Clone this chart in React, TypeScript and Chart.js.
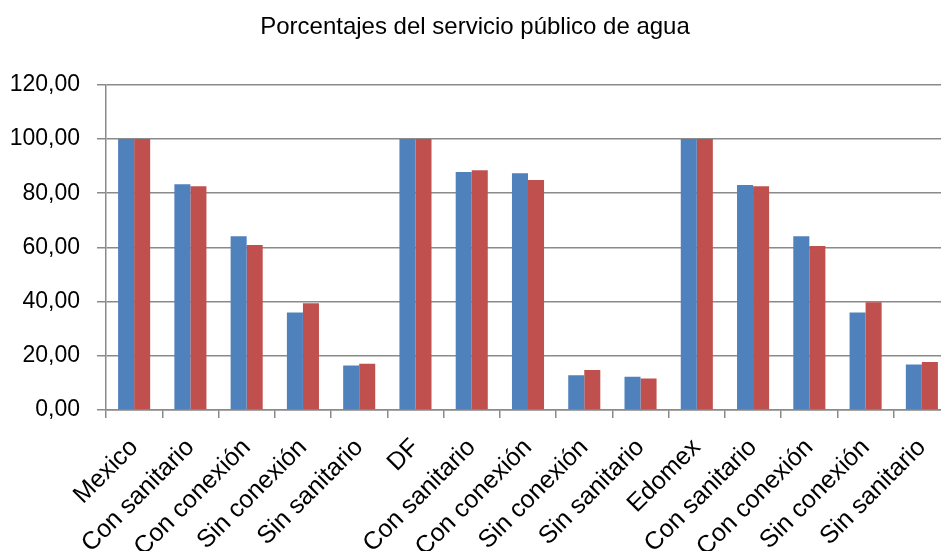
import React, { useEffect, useRef } from "react";
import { Chart, registerables } from "chart.js";

Chart.register(...registerables);

const title = "Porcentajes del servicio público de agua";

const categories = [
  "Mexico",
  "Con sanitario",
  "Con conexión",
  "Sin conexión",
  "Sin sanitario",
  "DF",
  "Con sanitario",
  "Con conexión",
  "Sin conexión",
  "Sin sanitario",
  "Edomex",
  "Con sanitario",
  "Con conexión",
  "Sin conexión",
  "Sin sanitario",
];

const serieAzul = [100, 83.3, 64.1, 36.0, 16.4, 100, 87.8, 87.4, 12.8, 12.3, 100, 83.0, 64.1, 36.0, 16.8];
const serieRoja = [100, 82.6, 60.9, 39.4, 17.1, 100, 88.5, 84.9, 14.8, 11.6, 100, 82.6, 60.5, 39.8, 17.7];

const yTicks = [0, 20, 40, 60, 80, 100, 120];

const FONT = "'Liberation Sans', Arial, sans-serif";
const GRID = "#8a8a8a";

export default function App() {
  const ref = useRef<HTMLCanvasElement | null>(null);

  useEffect(() => {
    if (!ref.current) return;
    const chart = new Chart(ref.current, {
      type: "bar",
      data: {
        labels: categories,
        datasets: [
          {
            label: "Serie 1",
            data: serieAzul,
            backgroundColor: "#4F81BD",
            borderWidth: 0,
            barPercentage: 1,
            categoryPercentage: 0.57,
          },
          {
            label: "Serie 2",
            data: serieRoja,
            backgroundColor: "#C0504D",
            borderWidth: 0,
            barPercentage: 1,
            categoryPercentage: 0.57,
          },
        ],
      },
      options: {
        responsive: false,
        animation: false,
        devicePixelRatio: 1,
        layout: { padding: { left: 0, right: 0, top: 0, bottom: 0 } },
        plugins: {
          legend: { display: false },
          tooltip: { enabled: false },
          title: {
            display: true,
            text: title,
            color: "#000",
            font: { family: FONT, size: 24, weight: "normal" },
            padding: { top: 13, bottom: 43 },
          },
        },
        scales: {
          x: {
            grid: {
              display: true,
              offset: true,
              drawOnChartArea: false,
              drawTicks: true,
              tickLength: 8,
              color: GRID,
              lineWidth: 1.5,
            },
            border: { display: true, color: GRID, width: 1.5 },
            ticks: {
              autoSkip: false,
              minRotation: 45,
              maxRotation: 45,
              padding: 15,
              color: "#000",
              font: { family: FONT, size: 25 },
            },
            afterFit: (scale: any) => {
              scale.height = 141;
              scale.paddingRight = 0;
              scale.paddingLeft = 0;
            },
          },
          y: {
            min: 0,
            max: 120,
            afterBuildTicks: (scale: any) => {
              scale.ticks = yTicks.map((v) => ({ value: v }));
            },
            grid: {
              color: GRID,
              lineWidth: 1.5,
              drawTicks: true,
              tickLength: 9,
            },
            border: { display: true, color: GRID, width: 1.5 },
            ticks: {
              padding: 17,
              color: "#000",
              font: { family: FONT, size: 23 },
              callback: (v: any) => Number(v).toFixed(2).replace(".", ","),
            },
            afterFit: (scale: any) => {
              scale.width = 106;
            },
          },
        },
      },
    });
    return () => chart.destroy();
  }, []);

  return (
    <div
      style={{
        position: "fixed",
        left: 0,
        top: 0,
        width: 941,
        height: 551,
        overflow: "hidden",
        background: "#fff",
      }}
    >
      <canvas ref={ref} width={950} height={551} style={{ display: "block", width: 950, height: 551 }} />
    </div>
  );
}
